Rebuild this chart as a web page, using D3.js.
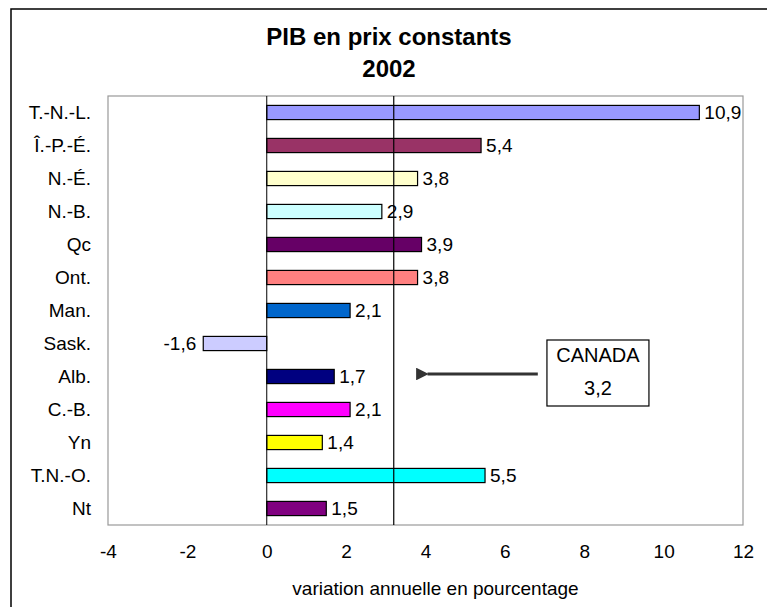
<!DOCTYPE html>
<html>
<head>
<meta charset="utf-8">
<script src="https://cdn.jsdelivr.net/npm/d3@7"></script>
<style>
  body { margin: 0; background: #fff; }
  text { font-family: "Liberation Sans", Arial, sans-serif; fill: #000; }
</style>
</head>
<body>
<div id="chart"></div>
<script>
// data
var provinces = ["T.-N.-L.", "Î.-P.-É.", "N.-É.", "N.-B.", "Qc", "Ont.", "Man.", "Sask.", "Alb.", "C.-B.", "Yn", "T.N.-O.", "Nt"];
var growth = [10.9, 5.4, 3.8, 2.9, 3.9, 3.8, 2.1, -1.6, 1.7, 2.1, 1.4, 5.5, 1.5];
var barColors = ["#9999FF", "#993366", "#FFFFCC", "#CCFFFF", "#660066", "#FF8080", "#0066CC", "#CCCCFF", "#000080", "#FF00FF", "#FFFF00", "#00FFFF", "#800080"];
var xTicks = [-4, -2, 0, 2, 4, 6, 8, 10, 12];
var canadaValue = 3.2;

var svgWidth = 767;
var svgHeight = 607;

var margin = { top: 96, right: 24, bottom: 82, left: 108 };
var width = svgWidth - margin.left - margin.right;
var height = svgHeight - margin.top - margin.bottom;

var fmt = function(v) { return String(v).replace(".", ","); };

var svg = d3.select("#chart")
  .append("svg")
  .attr("width", svgWidth)
  .attr("height", svgHeight);

// outer chart border (runs off the picture on right and bottom)
svg.append("rect")
  .attr("x", 11)
  .attr("y", 9)
  .attr("width", 800)
  .attr("height", 700)
  .attr("fill", "none")
  .attr("stroke", "#000")
  .attr("stroke-width", 1.5);

svg.append("text")
  .attr("x", 389)
  .attr("y", 45)
  .attr("text-anchor", "middle")
  .attr("font-size", "24px")
  .attr("font-weight", "bold")
  .text("PIB en prix constants");

svg.append("text")
  .attr("x", 389)
  .attr("y", 77)
  .attr("text-anchor", "middle")
  .attr("font-size", "24px")
  .attr("font-weight", "bold")
  .text("2002");

var chartGroup = svg.append("g")
  .attr("transform", `translate(${margin.left}, ${margin.top})`);

var xScale = d3.scaleLinear().domain([-4, 12]).range([0, width]);
var yScale = d3.scaleBand().domain(provinces).range([0, height]).paddingInner(0.57).paddingOuter(0.285);

// plot frame
chartGroup.append("rect")
  .attr("width", width)
  .attr("height", height)
  .attr("fill", "#fff")
  .attr("stroke", "#999")
  .attr("stroke-width", 1.2);

// bars
chartGroup.selectAll(".bar")
  .data(growth)
  .enter()
  .append("rect")
  .attr("class", "bar")
  .attr("x", function(d) { return xScale(Math.min(0, d)); })
  .attr("y", function(d, i) { return yScale(provinces[i]); })
  .attr("width", function(d) { return Math.abs(xScale(d) - xScale(0)); })
  .attr("height", yScale.bandwidth())
  .attr("fill", function(d, i) { return barColors[i]; })
  .attr("stroke", "#000")
  .attr("stroke-width", 1.2);

// zero line
chartGroup.append("line")
  .attr("x1", xScale(0)).attr("x2", xScale(0))
  .attr("y1", 0).attr("y2", height)
  .attr("stroke", "#000");

// Canada average line
chartGroup.append("line")
  .attr("x1", xScale(canadaValue)).attr("x2", xScale(canadaValue))
  .attr("y1", 0).attr("y2", height)
  .attr("stroke", "#000")
  .attr("stroke-width", 1.2);

// value labels
chartGroup.selectAll(".val")
  .data(growth)
  .enter()
  .append("text")
  .attr("class", "val")
  .attr("x", function(d) { return d < 0 ? xScale(d) - 7 : xScale(d) + 5; })
  .attr("y", function(d, i) { return yScale(provinces[i]) + yScale.bandwidth() / 2; })
  .attr("dy", "0.36em")
  .attr("text-anchor", function(d) { return d < 0 ? "end" : "start"; })
  .attr("font-size", "19px")
  .text(function(d) { return fmt(d); });

// category labels
chartGroup.selectAll(".cat")
  .data(provinces)
  .enter()
  .append("text")
  .attr("class", "cat")
  .attr("x", -17)
  .attr("y", function(d) { return yScale(d) + yScale.bandwidth() / 2; })
  .attr("dy", "0.36em")
  .attr("text-anchor", "end")
  .attr("font-size", "19px")
  .text(function(d) { return d; });

// x axis labels (no line, no ticks)
var bottomAxis = d3.axisBottom(xScale).tickValues(xTicks).tickSize(0).tickPadding(20)
  .tickFormat(function(d) { return fmt(d); });
var xAxisG = chartGroup.append("g")
  .attr("transform", `translate(0, ${height})`)
  .call(bottomAxis);
xAxisG.select(".domain").remove();
xAxisG.selectAll("text")
  .attr("font-size", "19px")
  .attr("font-family", "Liberation Sans, Arial, sans-serif")
  .attr("fill", "#000");

chartGroup.append("text")
  .attr("x", width / 2 + 10)
  .attr("y", height + 70)
  .attr("text-anchor", "middle")
  .attr("font-size", "19px")
  .text("variation annuelle en pourcentage");

// Canada callout: arrow + box
var defs = svg.append("defs");
defs.append("marker")
  .attr("id", "arrowhead")
  .attr("viewBox", "0 0 10 10")
  .attr("refX", 1)
  .attr("refY", 5)
  .attr("markerWidth", 4.5)
  .attr("markerHeight", 4.5)
  .attr("orient", "auto")
  .append("path")
  .attr("d", "M10,0 L0,5 L10,10 Z")
  .attr("fill", "#333");

var albY = yScale("Alb.") + yScale.bandwidth() / 2;
chartGroup.append("line")
  .attr("x1", xScale(6.83))
  .attr("x2", xScale(4.05))
  .attr("y1", albY - 2.5)
  .attr("y2", albY - 2.5)
  .attr("stroke", "#333")
  .attr("stroke-width", 2.8)
  .attr("marker-end", "url(#arrowhead)");

var boxX = xScale(7.06);
chartGroup.append("rect")
  .attr("x", boxX)
  .attr("y", albY - 36.5)
  .attr("width", 102)
  .attr("height", 66)
  .attr("fill", "#fff")
  .attr("stroke", "#000")
  .attr("stroke-width", 1.2);

chartGroup.append("text")
  .attr("x", boxX + 51)
  .attr("y", albY - 15)
  .attr("text-anchor", "middle")
  .attr("font-size", "20px")
  .text("CANADA");

chartGroup.append("text")
  .attr("x", boxX + 51)
  .attr("y", albY + 18)
  .attr("text-anchor", "middle")
  .attr("font-size", "20px")
  .text(fmt(canadaValue));
</script>
</body>
</html>
